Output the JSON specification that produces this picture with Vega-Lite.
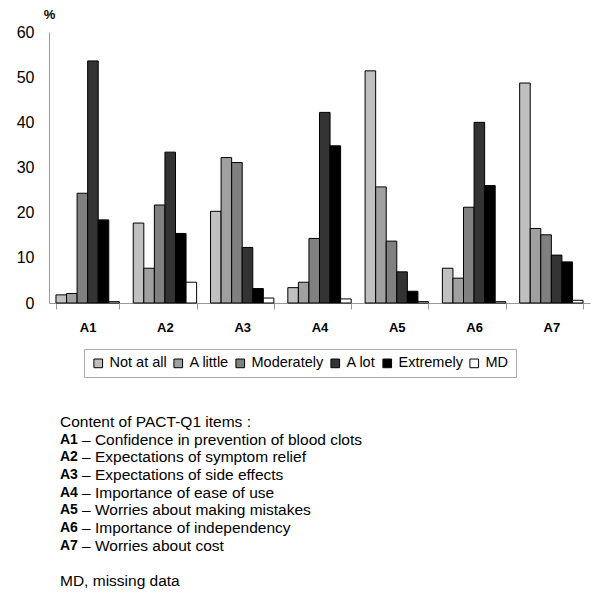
{
  "$schema": "https://vega.github.io/schema/vega-lite/v6.json",
  "padding": {"left": 16, "top": 8, "right": 5, "bottom": 5},
  "autosize": {"type": "pad"},
  "background": "white",
  "config": {"font": "Liberation Sans", "view": {"stroke": null}},
  "spacing": 35,
  "datasets": {
    "bars": [
      {"item": "A1", "response": "Not at all", "pct": 1.8},
      {"item": "A1", "response": "A little", "pct": 2.1},
      {"item": "A1", "response": "Moderately", "pct": 24.3},
      {"item": "A1", "response": "A lot", "pct": 53.6},
      {"item": "A1", "response": "Extremely", "pct": 18.4},
      {"item": "A1", "response": "MD", "pct": 0.3},
      {"item": "A2", "response": "Not at all", "pct": 17.7},
      {"item": "A2", "response": "A little", "pct": 7.7},
      {"item": "A2", "response": "Moderately", "pct": 21.7},
      {"item": "A2", "response": "A lot", "pct": 33.4},
      {"item": "A2", "response": "Extremely", "pct": 15.4},
      {"item": "A2", "response": "MD", "pct": 4.6},
      {"item": "A3", "response": "Not at all", "pct": 20.3},
      {"item": "A3", "response": "A little", "pct": 32.2},
      {"item": "A3", "response": "Moderately", "pct": 31.1},
      {"item": "A3", "response": "A lot", "pct": 12.3},
      {"item": "A3", "response": "Extremely", "pct": 3.2},
      {"item": "A3", "response": "MD", "pct": 1.1},
      {"item": "A4", "response": "Not at all", "pct": 3.4},
      {"item": "A4", "response": "A little", "pct": 4.6},
      {"item": "A4", "response": "Moderately", "pct": 14.3},
      {"item": "A4", "response": "A lot", "pct": 42.2},
      {"item": "A4", "response": "Extremely", "pct": 34.8},
      {"item": "A4", "response": "MD", "pct": 0.9},
      {"item": "A5", "response": "Not at all", "pct": 51.4},
      {"item": "A5", "response": "A little", "pct": 25.7},
      {"item": "A5", "response": "Moderately", "pct": 13.7},
      {"item": "A5", "response": "A lot", "pct": 6.9},
      {"item": "A5", "response": "Extremely", "pct": 2.6},
      {"item": "A5", "response": "MD", "pct": 0.3},
      {"item": "A6", "response": "Not at all", "pct": 7.7},
      {"item": "A6", "response": "A little", "pct": 5.5},
      {"item": "A6", "response": "Moderately", "pct": 21.2},
      {"item": "A6", "response": "A lot", "pct": 40.0},
      {"item": "A6", "response": "Extremely", "pct": 26.0},
      {"item": "A6", "response": "MD", "pct": 0.3},
      {"item": "A7", "response": "Not at all", "pct": 48.7},
      {"item": "A7", "response": "A little", "pct": 16.5},
      {"item": "A7", "response": "Moderately", "pct": 15.1},
      {"item": "A7", "response": "A lot", "pct": 10.6},
      {"item": "A7", "response": "Extremely", "pct": 9.1},
      {"item": "A7", "response": "MD", "pct": 0.6}
    ],
    "notes": [
      {"line": 0, "code": "", "desc": "Content of PACT-Q1 items :"},
      {"line": 1, "code": "A1", "desc": "– Confidence in prevention of blood clots"},
      {"line": 2, "code": "A2", "desc": "– Expectations of symptom relief"},
      {"line": 3, "code": "A3", "desc": "– Expectations of side effects"},
      {"line": 4, "code": "A4", "desc": "– Importance of ease of use"},
      {"line": 5, "code": "A5", "desc": "– Worries about making mistakes"},
      {"line": 6, "code": "A6", "desc": "– Importance of independency"},
      {"line": 7, "code": "A7", "desc": "– Worries about cost"},
      {"line": 8, "code": "", "desc": ""},
      {"line": 9, "code": "", "desc": "MD, missing data"}
    ]
  },
  "vconcat": [
    {
      "width": 541,
      "height": 271,
      "data": {"name": "bars"},
      "mark": {"type": "bar", "stroke": "black", "strokeWidth": 1},
      "encoding": {
        "x": {
          "field": "item", "type": "nominal",
          "scale": {"paddingInner": 0.18, "paddingOuter": 0.09},
          "axis": {"title": null, "labelAngle": 0, "labelFontWeight": "bold", "labelFontSize": 13, "labelColor": "black",
                   "domainColor": "#999999", "tickColor": "#999999", "tickBand": "extent", "tickSize": 6, "labelPadding": 12}
        },
        "xOffset": {
          "field": "response", "type": "nominal",
          "sort": ["Not at all", "A little", "Moderately", "A lot", "Extremely", "MD"],
          "scale": {"paddingInner": 0, "paddingOuter": 0}
        },
        "y": {
          "field": "pct", "type": "quantitative",
          "scale": {"domain": [0, 60], "nice": false},
          "axis": {"values": [0, 10, 20, 30, 40, 50, 60], "grid": false, "ticks": false, "labelPadding": 15,
                   "labelFontSize": 16, "labelColor": "black", "domainColor": "#999999",
                   "title": "%", "titleAngle": 0, "titleFontWeight": "bold", "titleFontSize": 13,
                   "titleX": 0, "titleY": -18, "titleAlign": "center", "titleBaseline": "middle", "titleColor": "black"}
        },
        "color": {
          "field": "response", "type": "nominal",
          "scale": {"domain": ["Not at all", "A little", "Moderately", "A lot", "Extremely", "MD"],
                    "range": ["#c0c0c0", "#a0a0a0", "#808080", "#333333", "#000000", "#ffffff"]},
          "legend": {"title": null, "orient": "none", "legendX": 35, "legendY": 317, "direction": "horizontal", "symbolType": "square",
                     "symbolSize": 75, "symbolStrokeColor": "black", "symbolStrokeWidth": 1, "symbolOpacity": 1,
                     "labelFontSize": 14.5, "labelColor": "black", "strokeColor": "#aaaaaa", "padding": 7,
                     "columnPadding": 4, "labelOffset": 4}
        }
      }
    },
    {
      "width": 541,
      "height": 177,
      "data": {"name": "notes"},
      "encoding": {
        "y": {"field": "line", "type": "ordinal", "axis": null, "scale": {"paddingInner": 0, "paddingOuter": 0}},
        "x": {"value": 0}
      },
      "layer": [
        {
          "transform": [{"filter": "datum.code == ''"}],
          "mark": {"type": "text", "align": "left", "baseline": "middle", "dx": 11, "fontSize": 15.5, "color": "black"},
          "encoding": {"text": {"field": "desc"}}
        },
        {
          "transform": [{"filter": "datum.code != ''"}],
          "mark": {"type": "text", "align": "left", "baseline": "middle", "dx": 11, "fontSize": 14, "fontWeight": "bold", "color": "black"},
          "encoding": {"text": {"field": "code"}}
        },
        {
          "transform": [{"filter": "datum.code != ''"}],
          "mark": {"type": "text", "align": "left", "baseline": "middle", "dx": 33, "fontSize": 15.5, "color": "black"},
          "encoding": {"text": {"field": "desc"}}
        }
      ]
    }
  ],
  "resolve": {"legend": {"color": "independent"}}
}
